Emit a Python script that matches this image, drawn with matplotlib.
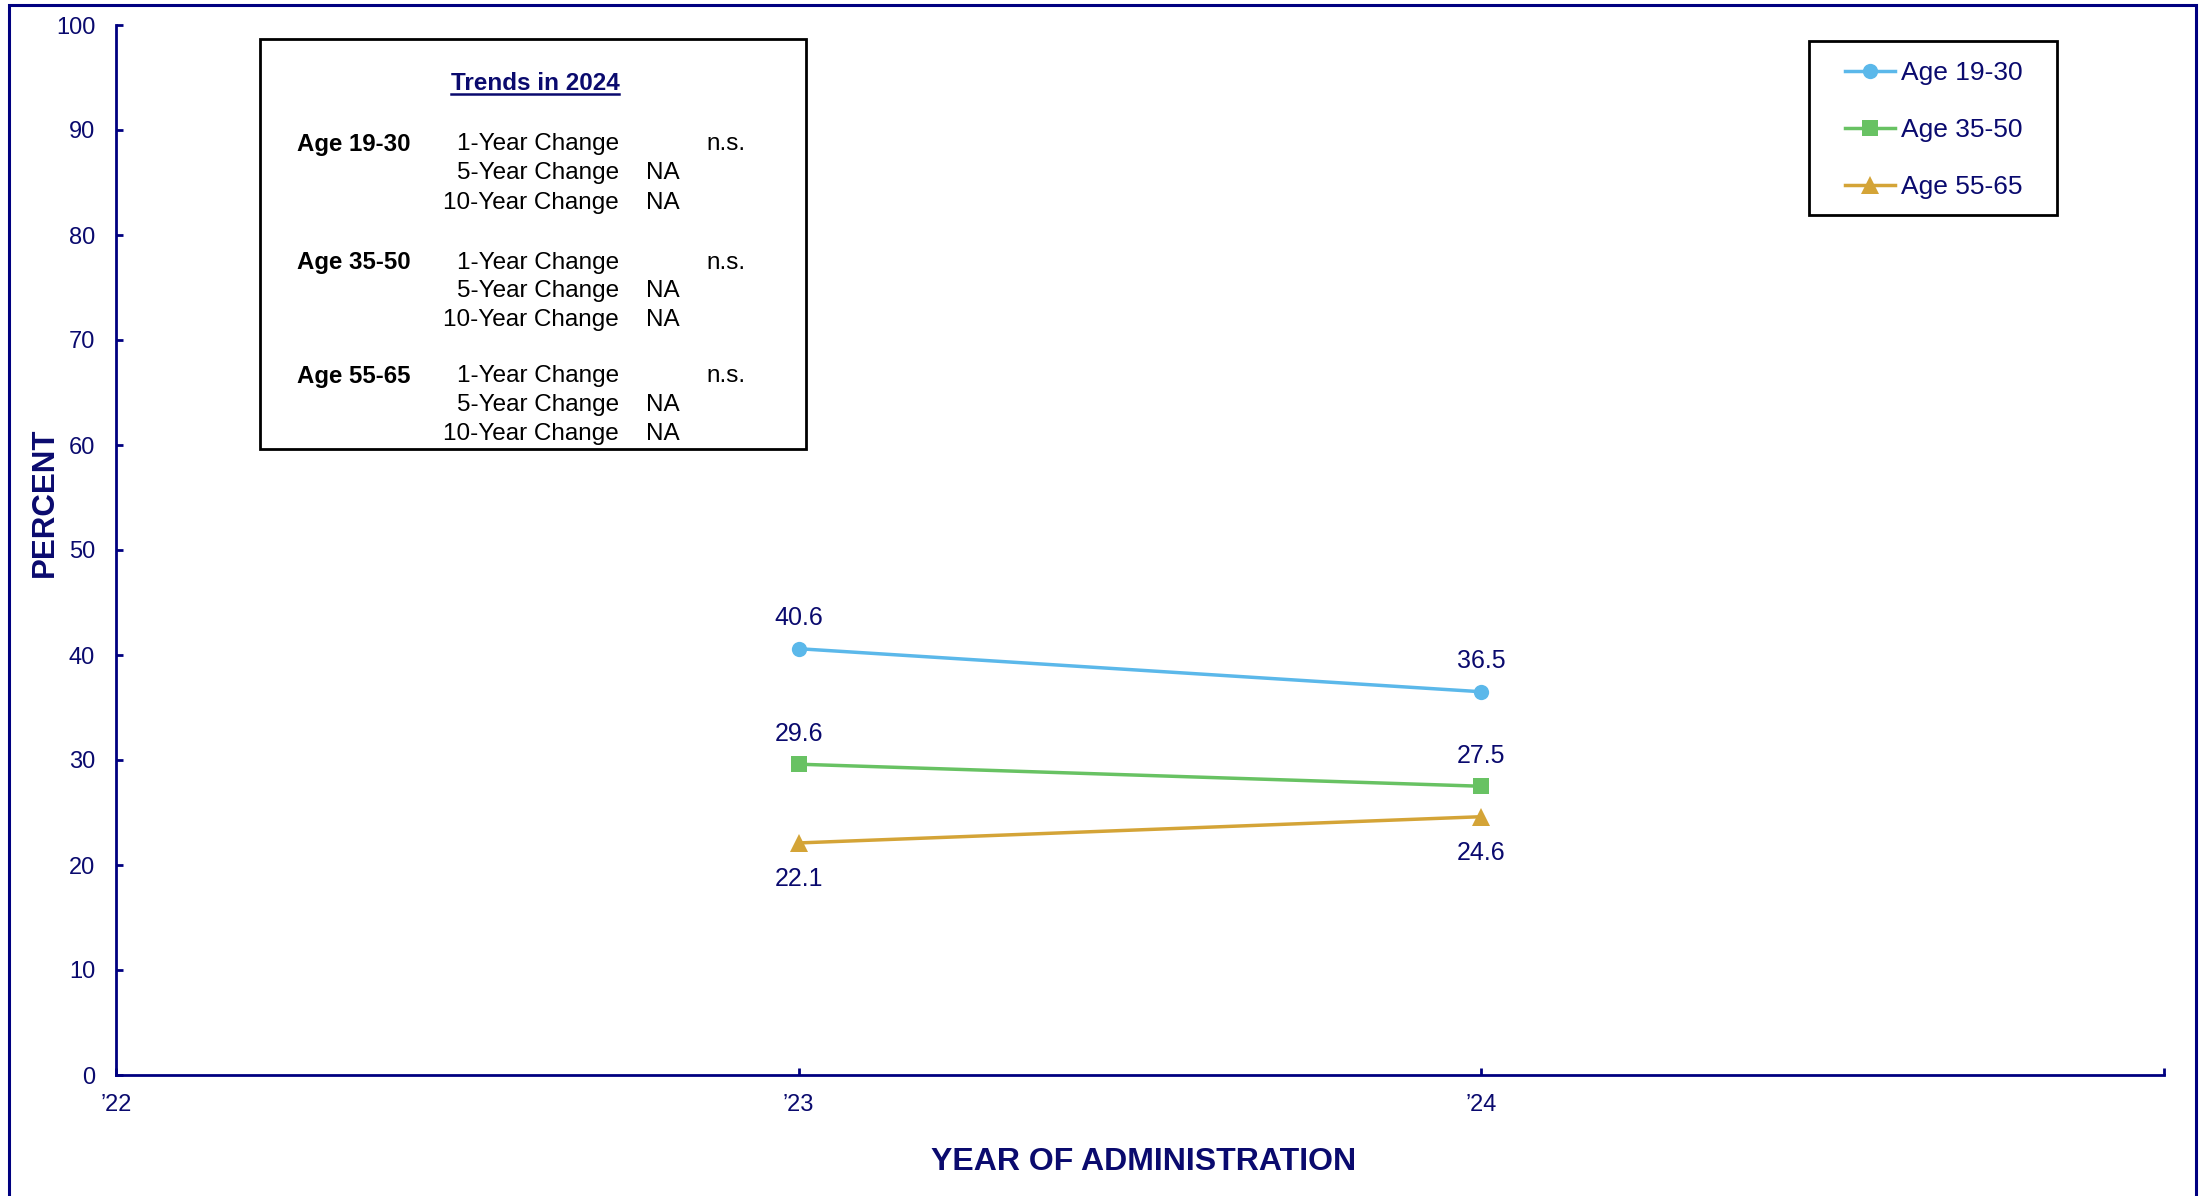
import matplotlib
matplotlib.use("Agg")
import matplotlib.pyplot as plt
from matplotlib.patches import Rectangle
from matplotlib.lines import Line2D

plt.rcParams['font.family'] = ['Liberation Sans', 'DejaVu Sans']

NAVY = '#000080'
TEXT = '#0a0a6e'

# Survey results by age band
years = [2023, 2024]
age_19_30 = [40.6, 36.5]
age_35_50 = [29.6, 27.5]
age_55_65 = [22.1, 24.6]
series_names = ['Age 19-30', 'Age 35-50', 'Age 55-65']
series_colors = ['#5bb8ea', '#68c263', '#d4a437']
series_markers = ['o', 's', '^']
marker_sizes = [11, 11, 12.5]
label_side = [1, 1, -1]   # value labels above (1) or below (-1) the points

xticks = [2022, 2023, 2024, 2025]
xtick_labels = ['\u201922', '\u201923', '\u201924', '']
yticks = list(range(0, 101, 10))

# Trend summary box
trend_groups = ['Age 19-30', 'Age 35-50', 'Age 55-65']
change_names = ['1-Year Change', '5-Year Change', '10-Year Change']
change_1yr = ['n.s.', 'n.s.', 'n.s.']
change_5yr = ['NA', 'NA', 'NA']
change_10yr = ['NA', 'NA', 'NA']

W, H = 2206, 1196
fig = plt.figure(figsize=(W / 100, H / 100), dpi=100)

def fx(px):
    return px / W

def fy(py):
    return 1 - py / H

# outer frame (runs off the bottom edge)
fig.patches.append(Rectangle((fx(9), -0.1), fx(2196) - fx(9), fy(5) + 0.1,
                             transform=fig.transFigure, fill=False,
                             edgecolor=NAVY, lw=2.2))

ax = fig.add_axes([fx(116), fy(1075), fx(2164) - fx(116), fy(25) - fy(1075)])

all_series = [age_19_30, age_35_50, age_55_65]
for vals, name, col, mk, ms, side in zip(all_series, series_names, series_colors,
                                         series_markers, marker_sizes, label_side):
    ax.plot(years, vals, color=col, lw=2.5, marker=mk, markersize=ms,
            markeredgewidth=0, label=name)
    for x, v in zip(years, vals):
        ax.annotate(f'{v:.1f}', (x, v), xytext=(0, 24 * side - 2), textcoords='offset points',
                    ha='center', va='center', fontsize=18, color=TEXT)

ax.set_xlim(2022, 2025)
ax.set_ylim(0, 100)
ax.set_xticks(xticks)
ax.set_xticklabels(xtick_labels)
ax.set_yticks(yticks)
ax.tick_params(direction='in', length=5, width=2, color=NAVY, labelcolor=TEXT,
               labelsize=17)
ax.tick_params(axis='y', pad=15)
ax.tick_params(axis='x', pad=14)
for s in ['top', 'right']:
    ax.spines[s].set_visible(False)
for s in ['left', 'bottom']:
    ax.spines[s].set_color(NAVY)
    ax.spines[s].set_linewidth(2)

fig.text(fx(45), fy(502), 'PERCENT', rotation=90, ha='center', va='center',
         fontsize=22.5, fontweight='bold', color=TEXT)
fig.text(fx(1144), fy(1162), 'YEAR OF ADMINISTRATION', ha='center', va='center',
         fontsize=23, fontweight='bold', color=TEXT)

# legend with a square black frame
fig.patches.append(Rectangle((fx(1809), fy(215)), fx(2057) - fx(1809), fy(41) - fy(215),
                             transform=fig.transFigure, fill=True, facecolor='white',
                             edgecolor='black', lw=2, zorder=5))
handles, labels = ax.get_legend_handles_labels()
leg = fig.legend(handles, labels, loc='upper left', bbox_to_anchor=(fx(1845), fy(61)),
                 bbox_transform=fig.transFigure, borderaxespad=0, borderpad=0,
                 fontsize=19, frameon=False, handlelength=1.9, handletextpad=0.23,
                 labelspacing=1.25, labelcolor=TEXT)
leg.set_zorder(6)

# trend summary box
fig.patches.append(Rectangle((fx(260), fy(449)), fx(806) - fx(260), fy(39) - fy(449),
                             transform=fig.transFigure, fill=True, facecolor='white',
                             edgecolor='black', lw=2, zorder=5))
title = fig.text(fx(535), fy(83), 'Trends in 2024', ha='center', va='center',
                 fontsize=17.5, fontweight='bold', color=TEXT, zorder=6)
fig.canvas.draw()
bb = title.get_window_extent()
fig.add_artist(Line2D([bb.x0 / W, bb.x1 / W], [fy(94), fy(94)], color=TEXT,
                      lw=1.8, transform=fig.transFigure, zorder=6))

group_rows = [[144, 173, 203], [263, 291, 320], [376, 405, 434]]
for g, name in enumerate(trend_groups):
    rows = group_rows[g]
    fig.text(fx(297), fy(rows[0]), name, ha='left', va='center', fontsize=17.3,
             fontweight='bold', color='black', zorder=6)
    values = [change_1yr[g], change_5yr[g], change_10yr[g]]
    for r, (cname, val) in enumerate(zip(change_names, values)):
        fig.text(fx(619), fy(rows[r]), cname, ha='right', va='center', fontsize=17.5,
                 color='black', zorder=6)
        vx = 706 if r == 0 else 646
        fig.text(fx(vx), fy(rows[r]), val, ha='left', va='center', fontsize=17.5,
                 color='black', zorder=6)

fig.savefig('out.png', dpi=100)
